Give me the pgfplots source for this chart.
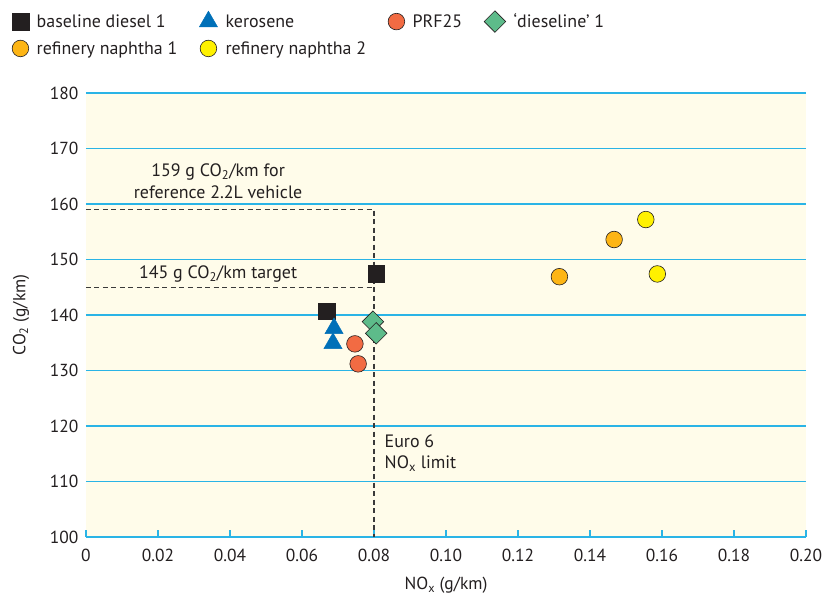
\documentclass[border=0pt]{standalone}
\usepackage{fontspec}
\setmainfont{PT Sans}
\usepackage{pgfplots}
\pgfplotsset{compat=1.18}
\definecolor{txt}{HTML}{231F20}
\definecolor{gridblue}{HTML}{2AB4E6}
\definecolor{bg}{HTML}{FFFCEA}
\definecolor{kero}{HTML}{0070B8}
\definecolor{prf}{HTML}{F26B43}
\definecolor{diesl}{HTML}{5DBB8A}
\definecolor{naph1}{HTML}{FDB515}
\definecolor{naph2}{HTML}{FFF100}
\definecolor{dashgray}{HTML}{3A3A3A}
\begin{document}
\begin{tikzpicture}
\begin{axis}[
  scale only axis, width=720bp, height=444bp,
  xmin=0, xmax=0.2, ymin=100, ymax=180,
  xtick={0,0.02,0.04,0.06,0.08,0.10,0.12,0.14,0.16,0.18,0.20},
  xticklabels={0,0.02,0.04,0.06,0.08,0.10,0.12,0.14,0.16,0.18,0.20},
  ytick={100,110,120,130,140,150,160,170,180},
  /pgf/number format/assume math mode=true,
  ticklabel style={font=\fontsize{17.5}{19}\selectfont, text=txt},
  label style={font=\fontsize{17.5}{19}\selectfont, text=txt},
  axis line style={draw=none},
  axis background/.style={fill=bg},
  ymajorgrids, grid style={gridblue, line width=1.3bp},
  tick align=inside, xtick pos=bottom, ytick pos=left,
  x tick style={gridblue, line width=1.3bp}, major tick length=7bp,
  y tick style={draw=none},
  xticklabel style={yshift=-9bp},
  yticklabel style={xshift=-4bp},
  xlabel={NO\textsubscript{x} (g/km)},
  ylabel={CO\textsubscript{2} (g/km)},
  xlabel style={yshift=-8.5bp},
  ylabel style={yshift=14bp},
  clip=false,
  legend style={at={(rel axis cs:-0.107,1.19)}, anchor=north west, draw=none, fill=none,
    font=\fontsize{18}{19}\selectfont, text=txt, row sep=7bp,
    /tikz/every odd column/.append style={column sep=6bp},
    /tikz/every even column/.append style={column sep=20bp}},
  legend columns=4,
  legend cell align=left,
  legend image code/.code={\draw[mark repeat=2,mark phase=2,#1] plot coordinates {(0bp,0bp) (9bp,0bp) (18bp,0bp)};},
]
% reference dashed lines
\addplot[dashgray, line width=1.3bp, dash pattern=on 5bp off 3.5bp, forget plot] coordinates {(0,159) (0.08,159) (0.08,100)};
\addplot[dashgray, line width=1.3bp, dash pattern=on 5bp off 3.5bp, forget plot] coordinates {(0,145) (0.08,145)};

\addplot[only marks, mark=square*, mark size=8.3bp, mark options={fill=txt, draw=txt}] coordinates {(0.0669,140.7) (0.0806,147.4)};
\addlegendentry{baseline diesel 1}
\addplot[only marks, mark=triangle*, mark size=10.5bp, mark options={fill=kero, draw=kero}] coordinates {(0.0689,137.6) (0.0686,134.9)};
\addlegendentry{kerosene}
\addplot[only marks, mark=*, mark size=8.3bp, mark options={fill=prf, draw=txt, line width=0.6bp}] coordinates {(0.0747,134.8) (0.0756,131.2)};
\addlegendentry{PRF25}
\addplot[only marks, mark=square*, mark size=7.6bp, mark options={rotate=45, fill=diesl, draw=txt, line width=0.6bp}] coordinates {(0.0797,138.8) (0.0806,136.7)};
\addlegendentry{‘dieseline’ 1}
\addplot[only marks, mark=*, mark size=8.3bp, mark options={fill=naph1, draw=txt, line width=0.6bp}] coordinates {(0.1315,146.9) (0.1467,153.6)};
\addlegendentry{refinery naphtha 1}
\addplot[only marks, mark=*, mark size=8.3bp, mark options={fill=naph2, draw=txt, line width=0.6bp}] coordinates {(0.1555,157.2) (0.1587,147.4)};
\addlegendentry{refinery naphtha 2}

\node[align=center, text=txt, font=\fontsize{18}{23}\selectfont] at (axis cs:0.0367,164.1) {159 g CO\textsubscript{2}/km for\\reference 2.2L vehicle};
\node[text=txt, font=\fontsize{18}{19}\selectfont] at (axis cs:0.0367,147.4) {145 g CO\textsubscript{2}/km target};
\node[align=left, anchor=west, text=txt, font=\fontsize{18}{21}\selectfont] at (axis cs:0.0820,115.1) {Euro 6\\NO\textsubscript{x} limit};
\coordinate (O) at (rel axis cs:0,0);
\end{axis}
\pgfresetboundingbox
\path[use as bounding box] (O) ++(-86bp,-59bp) rectangle ++(834bp,596bp);
\end{tikzpicture}
\end{document}
